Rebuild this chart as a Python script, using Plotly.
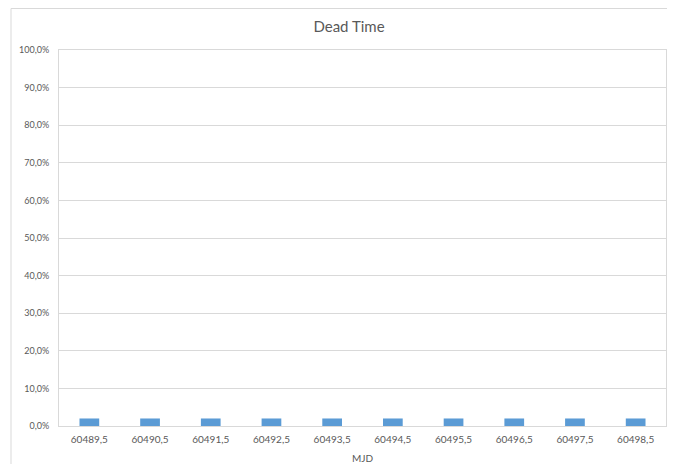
import plotly.graph_objects as go

mjd = ["60489,5", "60490,5", "60491,5", "60492,5", "60493,5",
       "60494,5", "60495,5", "60496,5", "60497,5", "60498,5"]
dead_time = [0.02, 0.02, 0.02, 0.02, 0.02, 0.02, 0.02, 0.02, 0.02, 0.02]

# page has an 8px body margin: figure starts at (8, 8); keep page from overflowing
OFF = 8
W, H = 675 - 2 * OFF, 472 - 2 * OFF
L, R, T = 59 - OFF, 1, 50 - OFF
B = H - (426 - OFF)
pw, ph = W - L - R, H - T - B

fig = go.Figure(go.Bar(x=mjd, y=dead_time, marker_color="#5B9BD5",
                       marker_line_width=0))

grey = "#595959"
fig.update_layout(
    width=W, height=H,
    margin=dict(l=L, r=R, t=T, b=B),
    paper_bgcolor="white", plot_bgcolor="white",
    separators=", ",
    bargap=0.675,
    showlegend=False,
    font=dict(family="Lato, Carlito, sans-serif", color=grey, size=10),
    title=dict(text="Dead Time", x=(349 - OFF) / W, xanchor="center",
               y=1 - (27 - OFF) / H, yanchor="middle",
               font=dict(size=15, color=grey)),
    xaxis=dict(type="category", showgrid=False, showline=True, mirror=True,
               linecolor="#D9D9D9", linewidth=1, ticks="",
               ticklabelstandoff=4,
               tickfont=dict(size=10, color=grey),
               title=dict(text="MJD", standoff=11, font=dict(size=10, color=grey))),
    yaxis=dict(range=[0, 1], dtick=0.1, tick0=0, tickformat=".1%",
               showgrid=True, gridcolor="#D9D9D9", gridwidth=1,
               showline=True, mirror=True, linecolor="#D9D9D9",
               zeroline=False, ticks="", ticklabelstandoff=7,
               tickfont=dict(size=9, color=grey)),
)

# chart-area border (Excel style)
fig.add_shape(type="rect", xref="paper", yref="paper", layer="below",
              x0=(11 - 59) / pw, x1=(W + 5 - L) / pw,
              y0=-(B + 5) / ph, y1=(ph + T - 0.5) / ph,
              line=dict(color="#D9D9D9", width=1), fillcolor="rgba(0,0,0,0)")

fig.write_html("out.html")
